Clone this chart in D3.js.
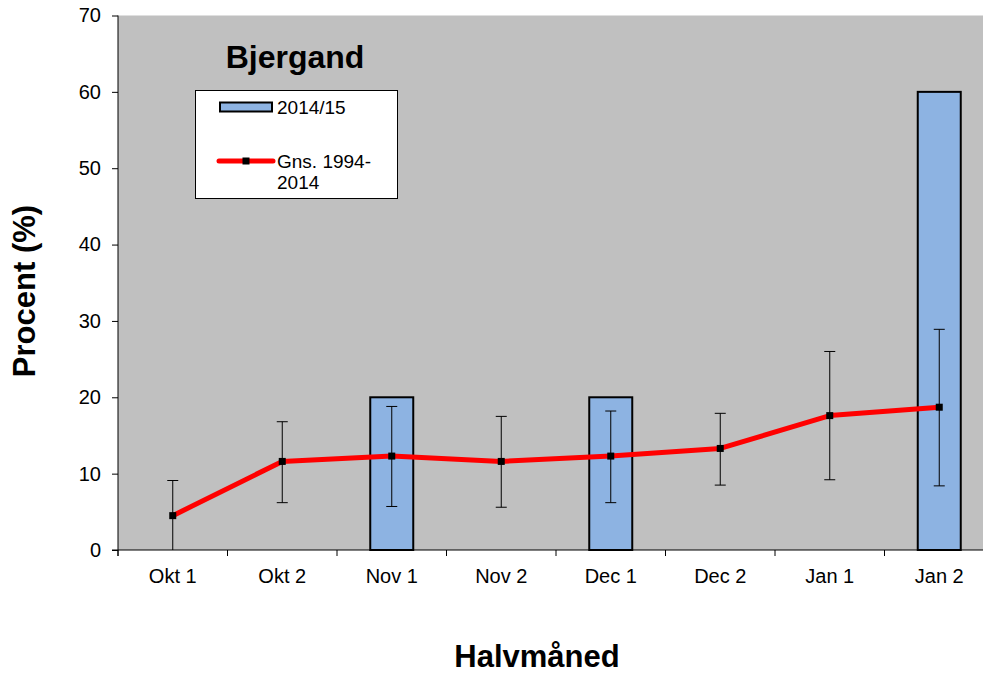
<!DOCTYPE html>
<html>
<head>
  <meta charset="utf-8" />
  <title>Bjergand</title>
  <style>
    body { margin: 0; background: #fff; }
    svg { display: block; font-family: "Liberation Sans", Arial, sans-serif; }
  </style>
</head>
<body>
  <svg id="chart"></svg>
  <script src="https://d3js.org/d3.v7.min.js"></script>
  <script>
    const categories = ['Okt 1', 'Okt 2', 'Nov 1', 'Nov 2', 'Dec 1', 'Dec 2', 'Jan 1', 'Jan 2']
    const season = [0, 0, 20, 0, 20, 0, 0, 60]
    const average = [4.5, 11.6, 12.3, 11.6, 12.3, 13.3, 17.6, 18.7]
    const errLow = [0, 6.2, 5.7, 5.6, 6.2, 8.5, 9.2, 8.4]
    const errHigh = [9.1, 16.8, 18.8, 17.5, 18.2, 17.9, 26.0, 28.9]
    const yTicks = [0, 10, 20, 30, 40, 50, 60, 70]
    const seriesNames = ['2014/15', ['Gns. 1994-', '2014']]

    const width = 983
    const height = 674
    const font = '"Liberation Sans", Arial, sans-serif'

    const svg = d3.select('#chart').attr('width', width).attr('height', height)

    const xc = d3.scaleBand().domain(categories).range([118, 994])
    const y = d3.scaleLinear().domain([0, 70]).range([550, 15.5])
    const cx = c => xc(c) + xc.bandwidth() / 2

    // plot area
    svg.append('rect')
      .attr('x', 118).attr('y', y(70))
      .attr('width', 994 - 118).attr('height', y(0) - y(70))
      .attr('fill', '#c0c0c0')

    // bars
    svg.append('g').selectAll('rect')
      .data(categories.map((c, i) => ({ c, v: season[i] })).filter(d => d.v > 0))
      .join('rect')
      .attr('x', d => cx(d.c) - 21.5)
      .attr('width', 43)
      .attr('y', d => y(d.v))
      .attr('height', d => y(0) - y(d.v))
      .attr('fill', '#8db3e2')
      .attr('stroke', '#000')
      .attr('stroke-width', 2)

    // error bars
    const eb = svg.append('g').attr('stroke', '#000').attr('stroke-width', 1)
    categories.forEach((c, i) => {
      const px = cx(c)
      eb.append('line').attr('x1', px).attr('x2', px).attr('y1', y(errLow[i])).attr('y2', y(errHigh[i]))
      eb.append('line').attr('x1', px - 5.5).attr('x2', px + 5.5).attr('y1', y(errHigh[i])).attr('y2', y(errHigh[i]))
      if (errLow[i] > 0) {
        eb.append('line').attr('x1', px - 5.5).attr('x2', px + 5.5).attr('y1', y(errLow[i])).attr('y2', y(errLow[i]))
      }
    })

    // average line
    const line = d3.line().x((d, i) => cx(categories[i])).y(d => y(d))
    svg.append('path')
      .datum(average)
      .attr('d', line)
      .attr('fill', 'none')
      .attr('stroke', '#ff0000')
      .attr('stroke-width', 5)
      .attr('stroke-linejoin', 'round')

    svg.append('g').selectAll('rect')
      .data(average)
      .join('rect')
      .attr('x', (d, i) => cx(categories[i]) - 3.5)
      .attr('y', d => y(d) - 3.5)
      .attr('width', 7).attr('height', 7)
      .attr('fill', '#000')

    // axes
    const yAxis = svg.append('g')
      .attr('transform', 'translate(118,0)')
      .call(d3.axisLeft(y).tickValues(yTicks).tickSize(6).tickPadding(11))
    yAxis.select('.domain').attr('d', `M0,${y(70)}V${y(0) + 6}`)

    const xAxis = svg.append('g')
      .attr('transform', `translate(0,${y(0)})`)
      .call(d3.axisBottom(xc).tickSize(0).tickPadding(19))
    xAxis.select('.domain').attr('d', `M112,0H994`)
    xAxis.selectAll('.sep')
      .data(d3.range(categories.length))
      .join('line')
      .attr('class', 'sep')
      .attr('x1', i => xc(categories[i])).attr('x2', i => xc(categories[i]))
      .attr('y1', 0).attr('y2', 6)
      .attr('stroke', '#000')

    svg.selectAll('.tick text').attr('font-size', 20).attr('fill', '#000')
      .style('font-family', font)
    svg.selectAll('.domain, .tick line').attr('stroke', '#000')

    // titles
    svg.append('text')
      .attr('x', 295).attr('y', 68)
      .attr('text-anchor', 'middle')
      .attr('font-size', 32).attr('font-weight', 'bold')
      .text('Bjergand')

    svg.append('text')
      .attr('transform', 'translate(35,291) rotate(-90)')
      .attr('text-anchor', 'middle')
      .attr('font-size', 31).attr('font-weight', 'bold')
      .text('Procent (%)')

    svg.append('text')
      .attr('x', 537).attr('y', 667)
      .attr('text-anchor', 'middle')
      .attr('font-size', 31).attr('font-weight', 'bold')
      .text('Halvmåned')

    // legend
    const lg = svg.append('g')
    lg.append('rect').attr('x', 195.5).attr('y', 90.5).attr('width', 202).attr('height', 108)
      .attr('fill', '#fff').attr('stroke', '#000').attr('stroke-width', 1)
    lg.append('rect').attr('x', 220).attr('y', 102.5).attr('width', 52).attr('height', 9)
      .attr('fill', '#8db3e2').attr('stroke', '#000').attr('stroke-width', 2)
    lg.append('text').attr('x', 277).attr('y', 114).attr('font-size', 19).text(seriesNames[0])
    lg.append('line').attr('x1', 219).attr('x2', 273).attr('y1', 161).attr('y2', 161)
      .attr('stroke', '#ff0000').attr('stroke-width', 5).attr('stroke-linecap', 'round')
    lg.append('rect').attr('x', 242.5).attr('y', 157.5).attr('width', 7).attr('height', 7).attr('fill', '#000')
    lg.append('text').attr('x', 277).attr('y', 168).attr('font-size', 19)
      .selectAll('tspan').data(seriesNames[1]).join('tspan')
      .attr('x', 277).attr('dy', (d, i) => i ? 21 : 0).text(d => d)
  </script>
</body>
</html>
